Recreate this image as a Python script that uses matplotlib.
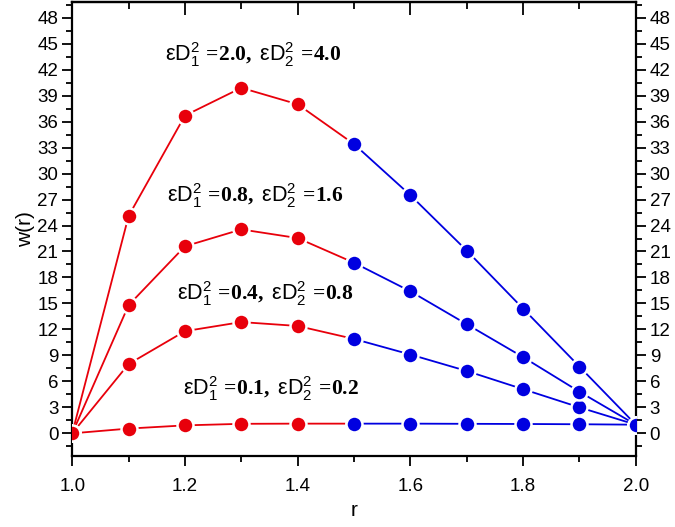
import matplotlib
matplotlib.use("Agg")
import matplotlib.pyplot as plt
from matplotlib.ticker import MultipleLocator

plt.rcParams['font.family'] = ['Liberation Sans', 'DejaVu Sans']
plt.rcParams['mathtext.fontset'] = 'custom'
plt.rcParams['mathtext.rm'] = 'Liberation Sans'
plt.rcParams['mathtext.it'] = 'Liberation Sans'
plt.rcParams['mathtext.bf'] = 'Liberation Serif:bold'

# r values, split into the red (inner) and blue (outer) part
r_red = [1.0, 1.1, 1.2, 1.3, 1.4, 1.5]
r_blue = [1.5, 1.6, 1.7, 1.8, 1.9, 2.0]

# w(r) for each (eps D1^2, eps D2^2) pair
w_01 = [0.0, 0.55, 0.92, 1.1, 1.12, 1.12, 1.12, 1.1, 1.08, 1.05, 1.0]
w_04 = [0.0, 8.0, 11.8, 12.85, 12.4, 10.9, 9.1, 7.2, 5.1, 3.0, 1.0]
w_08 = [0.0, 14.8, 21.6, 23.55, 22.55, 19.7, 16.4, 12.6, 8.8, 4.8, 1.0]
w_20 = [0.0, 25.1, 36.7, 39.9, 38.0, 33.4, 27.5, 21.1, 14.4, 7.7, 1.0]

pairs = [("0.1", "0.2"), ("0.4", "0.8"), ("0.8", "1.6"), ("2.0", "4.0")]
label_pos = [(1.197, 5.2), (1.186, 16.2), (1.168, 27.5), (1.165, 43.7)]

red = '#e8000b'
blue = '#0000e0'

fig = plt.figure(figsize=(6.75, 5.27), dpi=100)
ax = fig.add_axes([0.107, 0.135, 0.835, 0.861])

for w in [w_01, w_04, w_08, w_20]:
    ax.plot(r_red, w[:6], '-o', color=red, lw=1.3, ms=11.5,
            mfc=red, mec='white', mew=1.8, zorder=3)
    ax.plot(r_blue, w[5:], '-o', color=blue, lw=1.3, ms=11.5,
            mfc=blue, mec='white', mew=1.8, zorder=3)

for (a, b), (x, y) in zip(pairs, label_pos):
    txt = (r"$\mathrm{εD}_1^2\,\mathbf{=}\!\mathbf{%s,}\;\mathrm{εD}_2^2\,"
           r"\mathbf{=}\!\mathbf{%s}$" % (a, b))
    ax.text(x, y, txt, fontsize=15.5, va='center', ha='left')

ax.set_xlim(1.0, 2.0)
ax.set_ylim(-2.6, 49.8)
ax.xaxis.set_major_locator(MultipleLocator(0.2))
ax.xaxis.set_minor_locator(MultipleLocator(0.1))
ax.yaxis.set_major_locator(MultipleLocator(3))
ax.yaxis.set_minor_locator(MultipleLocator(1.5))
ax.xaxis.set_major_formatter(plt.FuncFormatter(lambda v, p: f"{v:.1f}"))

ax.tick_params(axis='both', which='major', direction='out', length=7, width=1.3,
               labelsize=13.5, right=True, labelright=True)
ax.tick_params(axis='both', which='minor', direction='out', length=4, width=1.3,
               right=True)
ax.tick_params(axis='x', which='major', pad=9)
ax.tick_params(axis='y', which='major', pad=3)

# top axis: ticks pointing inward, no labels
top = ax.secondary_xaxis('top')
top.xaxis.set_major_locator(MultipleLocator(0.2))
top.xaxis.set_minor_locator(MultipleLocator(0.1))
top.tick_params(which='major', direction='in', length=9, width=1.3, labeltop=False)
top.tick_params(which='minor', direction='in', length=5, width=1.3)
top.spines['top'].set_linewidth(1.6)

for s in ax.spines.values():
    s.set_linewidth(1.6)

ax.set_xlabel('r', fontsize=15, labelpad=4)
ax.set_ylabel('w(r)', fontsize=15, labelpad=2)

fig.savefig('out.png', dpi=100)
